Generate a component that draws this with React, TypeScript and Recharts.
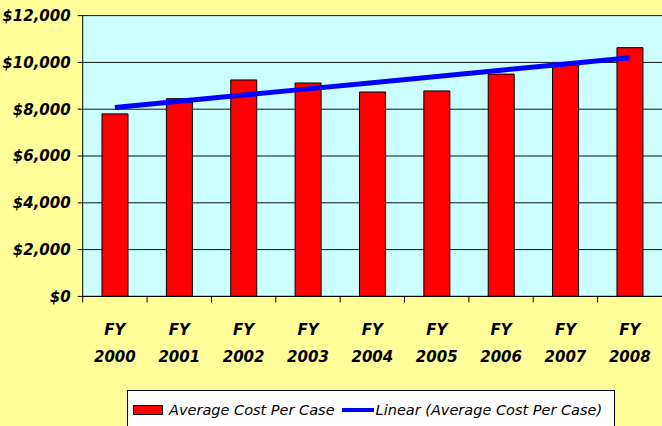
import React from "react";
import {
  ComposedChart, Bar, Line, XAxis, YAxis, CartesianGrid, Legend
} from "recharts";

// Fiscal years and the average cost per case
const years = ["2000", "2001", "2002", "2003", "2004", "2005", "2006", "2007", "2008"];
const avgCost = [7800, 8450, 9250, 9120, 8735, 8780, 9500, 9950, 10630];
const yTicks = [0, 2000, 4000, 6000, 8000, 10000, 12000];

// Excel style linear trendline (least squares over the category index)
function linearTrend(values: number[]) {
  const n = values.length;
  const mx = (n - 1) / 2;
  const my = values.reduce((s, v) => s + v, 0) / n;
  let num = 0;
  let den = 0;
  values.forEach((v, i) => {
    num += (i - mx) * (v - my);
    den += (i - mx) * (i - mx);
  });
  const slope = num / den;
  return values.map((_, i) => my + slope * (i - mx));
}

const trend = linearTrend(avgCost);
const data = years.map((y, i) => ({ year: y, cost: avgCost[i], trend: trend[i] }));

const W = 662;
const H = 426;
const LEFT = 82.7;
const RIGHT = 0;
const BAND = (W - LEFT - RIGHT) / years.length;
const FONT = "'DejaVu Sans', sans-serif";

function formatMoney(v: number) {
  return `$${v.toLocaleString("en-US")}`;
}

const YearTick = (props: any) => {
  const { x, y, payload } = props;
  return (
    <g>
      <line x1={x - BAND / 2} y1={y} x2={x - BAND / 2} y2={y + 6} stroke="#000" />
      <text x={x} y={y + 39} textAnchor="middle" fontFamily={FONT} fontSize={15}
        fontWeight="bold" fontStyle="italic" fill="#000">FY</text>
      <text x={x} y={y + 66} textAnchor="middle" fontFamily={FONT} fontSize={15}
        fontWeight="bold" fontStyle="italic" fill="#000">{payload.value}</text>
    </g>
  );
};

const LegendBox = () => (
  <div style={{
    boxSizing: "border-box", width: 488, height: 40, background: "#fff",
    border: "1px solid #000", display: "flex", alignItems: "center", whiteSpace: "nowrap",
    paddingLeft: 5, fontFamily: FONT, fontStyle: "italic", fontSize: 14.5, color: "#000"
  }}>
    <span style={{ display: "inline-block", flexShrink: 0, width: 28, height: 8, background: "#f00",
      border: "1px solid #000", marginRight: 6 }} />
    <span style={{ flexShrink: 0 }}>Average Cost Per Case</span>
    <span style={{ display: "inline-block", flexShrink: 0, width: 32, height: 4, background: "#00f",
      marginLeft: 7, marginRight: 2 }} />
    <span style={{ flexShrink: 0 }}>Linear (Average Cost Per Case)</span>
  </div>
);

export default function App() {
  return (
    <div style={{ position: "absolute", left: 0, top: 0, width: W, height: H,
      background: "#FFFF99", overflow: "hidden" }}>
      <ComposedChart width={W} height={H} data={data}
        margin={{ top: 15.6, right: RIGHT, left: 0, bottom: 59.6 }}
        barCategoryGap="30%">
        <CartesianGrid vertical={false} stroke="#111" fill="#CCFFFF" fillOpacity={1} />
        <XAxis dataKey="year" height={70} tickLine={false} tickSize={0} tickMargin={0}
          interval={0} stroke="#000" tick={<YearTick />} />
        <YAxis width={LEFT} domain={[0, 12000]} ticks={yTicks} tickFormatter={formatMoney}
          stroke="#000" tickSize={5} tickMargin={7}
          tick={{ fill: "#000", fontFamily: FONT, fontSize: 15, fontWeight: "bold", fontStyle: "italic" }} />
        <Bar dataKey="cost" fill="#FF0000" stroke="#000" strokeWidth={1} isAnimationActive={false} />
        <Line dataKey="trend" type="linear" stroke="#0000FF" strokeWidth={5} dot={false}
          activeDot={false} isAnimationActive={false} />
        <Legend layout="horizontal" verticalAlign="middle" align="center"
          wrapperStyle={{ left: 127, top: 390, width: 488, height: 40 }}
          content={<LegendBox />} />
      </ComposedChart>
    </div>
  );
}
